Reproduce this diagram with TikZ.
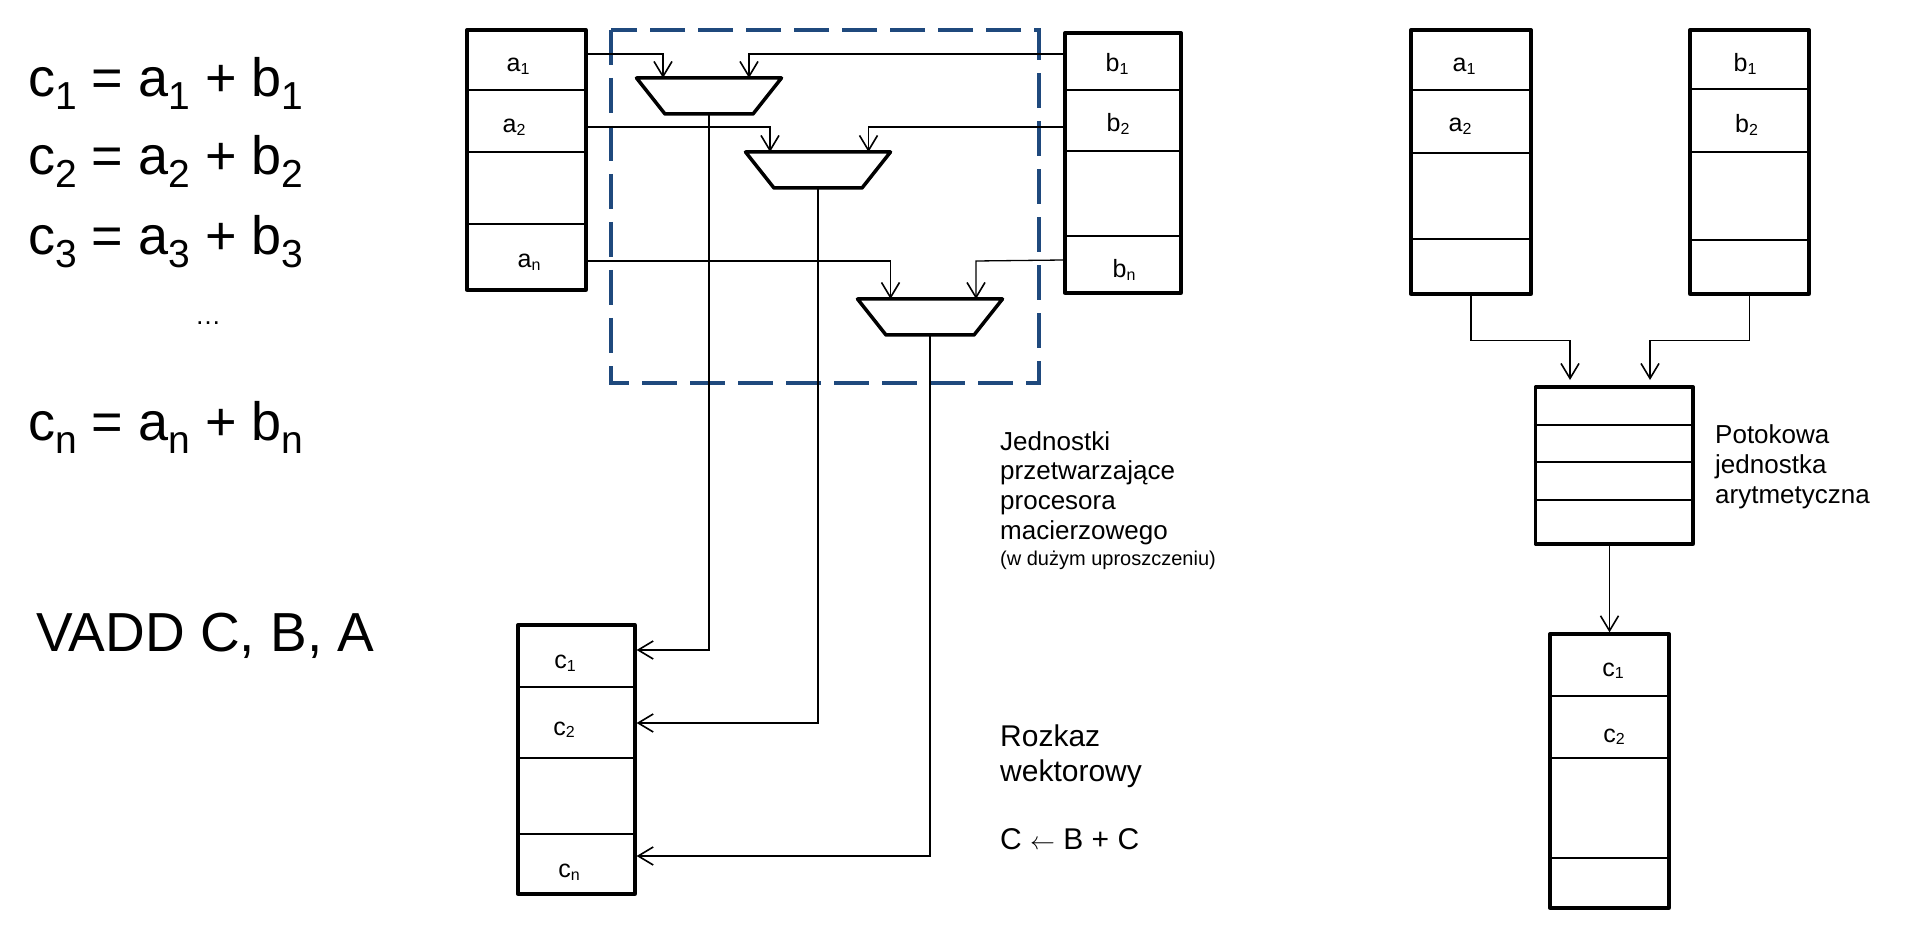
\documentclass[tikz,border=0pt]{standalone}
\usepackage{fontspec}
\setmainfont{Liberation Sans}
\usetikzlibrary{arrows.meta}
\definecolor{dashblue}{RGB}{31,73,125}
\newcommand\lsub[1]{\raisebox{-13pt}{\fontsize{39}{39}\selectfont #1}}
\newcommand\ssub[1]{\raisebox{-2.5pt}{\fontsize{16}{16}\selectfont #1}}
\newcommand\adder[3]{%
  \draw[adderbox] (#2-72.5,#3) -- (#2+72.5,#3) -- (#2+44,#3+36) -- (#2-44,#3+36) -- cycle;
  \coordinate (#1-out) at (#2,#3+36);
}
\begin{document}
\begin{tikzpicture}[x=1pt,y=-1pt,
  regbox/.style={draw, line width=3.3pt, inner sep=0pt, line join=round},
  divider/.style={line width=1.1pt},
  adderbox/.style={draw, line width=3.5pt, line join=round},
  conn/.style={line width=1.3pt},
  arr/.style={conn, -{Straight Barb[length=15pt,width=18pt,line width=1.6pt]}},
  cell/.style={font=\fontsize{25}{25}\selectfont, inner sep=0pt, anchor=base},
  big/.style={font=\fontsize{54}{54}\selectfont, inner sep=0pt, anchor=base west},
  lbl/.style={font=\fontsize{26}{30}\selectfont, inner sep=0pt, anchor=base west},
  lblbig/.style={font=\fontsize{30}{30}\selectfont, inner sep=0pt, anchor=base west},
  lblsmall/.style={font=\fontsize{20}{20}\selectfont, inner sep=0pt, anchor=base west},
]
\useasboundingbox[fill=white] (0,0) rectangle (1920,933);

% ---- equations ----
\node[big] (e1) at (28,97) {c\lsub{1} = a\lsub{1} + b\lsub{1}};
\node[big] (e2) at (28,175) {c\lsub{2} = a\lsub{2} + b\lsub{2}};
\node[big] (e3) at (28,255) {c\lsub{3} = a\lsub{3} + b\lsub{3}};
\node[lbl] (dots) at (195,325) {…};
\node[big] (en) at (28,440) {c\lsub{n} = a\lsub{n} + b\lsub{n}};
\node[font=\fontsize{55}{55}\selectfont, inner sep=0pt, anchor=base west] (vadd) at (36,651) {VADD C, B, A};

% ---- dashed region ----
\draw[dashblue, line width=3.5pt, dash pattern=on 35pt off 13pt] (611,30) rectangle (1039,383);

% ---- register boxes ----
\node[regbox, minimum width=119pt, minimum height=260pt] (A) at (526.5,160) {};
\foreach \yy in {90,152,224} \draw[divider] (A.west |- 0,\yy) -- (A.east |- 0,\yy);
\node[regbox, minimum width=116pt, minimum height=260pt] (B) at (1123,163) {};
\foreach \yy in {90,151,236} \draw[divider] (B.west |- 0,\yy) -- (B.east |- 0,\yy);
\node[regbox, minimum width=117pt, minimum height=269pt] (C) at (576.5,759.5) {};
\foreach \yy in {687,758,834} \draw[divider] (C.west |- 0,\yy) -- (C.east |- 0,\yy);

\node[regbox, minimum width=120pt, minimum height=264pt] (RA) at (1471,162) {};
\foreach \yy in {90,153,239} \draw[divider] (RA.west |- 0,\yy) -- (RA.east |- 0,\yy);
\node[regbox, minimum width=119pt, minimum height=264pt] (RB) at (1749.5,162) {};
\foreach \yy in {89,152,240} \draw[divider] (RB.west |- 0,\yy) -- (RB.east |- 0,\yy);
\node[regbox, minimum width=157.5pt, minimum height=157pt] (P) at (1614.25,465.5) {};
\foreach \yy in {425,462,500} \draw[divider] (P.west |- 0,\yy) -- (P.east |- 0,\yy);
\node[regbox, minimum width=119pt, minimum height=274pt] (RC) at (1609.5,771) {};
\foreach \yy in {696,758,858} \draw[divider] (RC.west |- 0,\yy) -- (RC.east |- 0,\yy);

% ---- cell texts ----
\node[cell] (ta1) at (518,71.7) {a\ssub{1}};
\node[cell] (ta2) at (514,133) {a\ssub{2}};
\node[cell] (tan) at (529,268) {a\ssub{n}};
\node[cell] (tb1) at (1117,71.7) {b\ssub{1}};
\node[cell] (tb2) at (1118,132) {b\ssub{2}};
\node[cell] (tbn) at (1124,278) {b\ssub{n}};
\node[cell] (tc1) at (565,668.7) {c\ssub{1}};
\node[cell] (tc2) at (564,735) {c\ssub{2}};
\node[cell] (tcn) at (569,877.7) {c\ssub{n}};
\node[cell] (rta1) at (1464,71.7) {a\ssub{1}};
\node[cell] (rta2) at (1460,131.7) {a\ssub{2}};
\node[cell] (rtb1) at (1745,71.7) {b\ssub{1}};
\node[cell] (rtb2) at (1746.5,132.7) {b\ssub{2}};
\node[cell] (rtc1) at (1613,676) {c\ssub{1}};
\node[cell] (rtc2) at (1614,742) {c\ssub{2}};

% ---- adders ----
\adder{ad1}{709}{78}
\adder{ad2}{818}{152}
\adder{ad3}{930}{299}
\coordinate (ad1a) at (663,78);
\coordinate (ad1b) at (749,78);
\coordinate (ad2a) at (770,152);
\coordinate (ad2b) at (868.5,152);
\coordinate (ad3a) at (890.5,299);
\coordinate (ad3b) at (976,299);

% ---- inputs ----
\draw[arr] (A.east |- 0,54) -| (ad1a);
\draw[arr] (B.west |- 0,54) -| (ad1b);
\draw[arr] (A.east |- 0,127) -| (ad2a);
\draw[arr] (B.west |- 0,127) -| (ad2b);
\draw[arr] (A.east |- 0,261) -| (ad3a);
\draw[arr] (B.west |- 0,260) -- (976,261) -- (ad3b);

% ---- outputs ----
\draw[arr] (ad1-out) |- (C.east |- 0,650);
\draw[arr] (ad2-out) |- (C.east |- 0,723);
\draw[arr] (ad3-out) |- (C.east |- 0,856);

% ---- pipeline side ----
\coordinate (pin1) at (1570,380);
\coordinate (pin2) at (1650,380);
\draw[arr] (RA.south) -- ++(0,45) -| (pin1);
\draw[arr] (RB.south) -- ++(0,45) -| (pin2);
\draw[arr] (RC.north |- P.south) -- (RC.north);

% ---- labels ----
\node[lbl] (j1) at (1000,450) {Jednostki};
\node[lbl] (j2) at (1000,479.5) {przetwarzające};
\node[lbl] (j3) at (1000,509) {procesora};
\node[lbl] (j4) at (1000,539) {macierzowego};
\node[lblsmall] (j5) at (1000,565) {(w dużym uproszczeniu)};

\node[lblbig] (r1) at (1000,746) {Rozkaz};
\node[lblbig] (r2) at (1000,781) {wektorowy};
\node[lblbig] (r3) at (1000,849) {C $\leftarrow$ B + C};

\node[lbl] (p1) at (1715,443) {Potokowa};
\node[lbl] (p2) at (1715,473) {jednostka};
\node[lbl] (p3) at (1715,503) {arytmetyczna};
\end{tikzpicture}
\end{document}
